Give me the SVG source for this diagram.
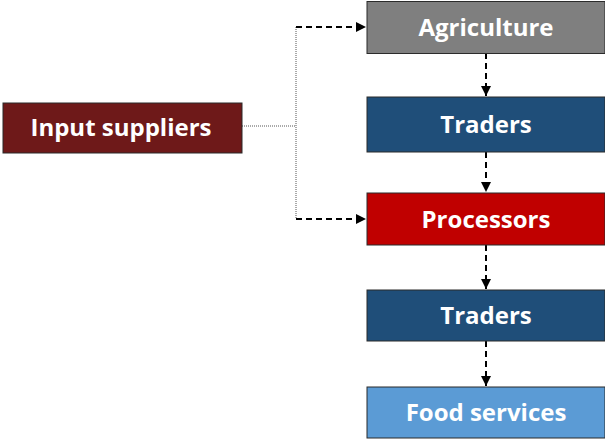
<svg xmlns="http://www.w3.org/2000/svg" width="605" height="439" viewBox="0 0 605 439">
  <style>
    .box { stroke: #2b2b2b; stroke-width: 1; }
    .label { font-family: "Open Sans", "Liberation Sans", sans-serif; font-weight: bold; font-size: 24px; fill: #ffffff; text-anchor: middle; dominant-baseline: central; }
    .dash { fill: none; stroke: #000000; stroke-width: 2; stroke-dasharray: 6 4; }
    .dot { fill: none; stroke: #555555; stroke-width: 1; stroke-dasharray: 1 1; }
  </style>
  <defs>
    <marker id="arrow" viewBox="0 0 10 10" refX="10" refY="5" markerWidth="5" markerHeight="5" orient="auto" markerUnits="strokeWidth">
      <path d="M0,0 L10,5 L0,10 Z" fill="#000000"/>
    </marker>
  </defs>

  <g id="connectors">
    <path class="dot" d="M242,126 H296"/>
    <path class="dot" d="M296,27 V219"/>
    <path class="dash" d="M296,27 H366" marker-end="url(#arrow)"/>
    <path class="dash" d="M296,219 H366" marker-end="url(#arrow)"/>
    <path class="dash" d="M486,53 V96" marker-end="url(#arrow)"/>
    <path class="dash" d="M486,152 V192" marker-end="url(#arrow)"/>
    <path class="dash" d="M486,245 V289" marker-end="url(#arrow)"/>
    <path class="dash" d="M486,341 V386" marker-end="url(#arrow)"/>
  </g>

  <g id="input-suppliers">
    <rect class="box" x="3" y="103" width="239" height="50" fill="#6e1919"/>
    <text class="label" x="121" y="126">Input suppliers</text>
  </g>
  <g id="agriculture">
    <rect class="box" x="367" y="1.5" width="238" height="52" fill="#7f7f7f"/>
    <text class="label" x="486" y="26">Agriculture</text>
  </g>
  <g id="traders-1">
    <rect class="box" x="367" y="97" width="238" height="55" fill="#1f4e79"/>
    <text class="label" x="486" y="123">Traders</text>
  </g>
  <g id="processors">
    <rect class="box" x="367" y="193" width="238" height="52" fill="#c00000"/>
    <text class="label" x="486" y="218">Processors</text>
  </g>
  <g id="traders-2">
    <rect class="box" x="367" y="290" width="238" height="51" fill="#1f4e79"/>
    <text class="label" x="486" y="314">Traders</text>
  </g>
  <g id="food-services">
    <rect class="box" x="367" y="387" width="238" height="51" fill="#5b9bd5"/>
    <text class="label" x="486" y="411">Food services</text>
  </g>
</svg>
